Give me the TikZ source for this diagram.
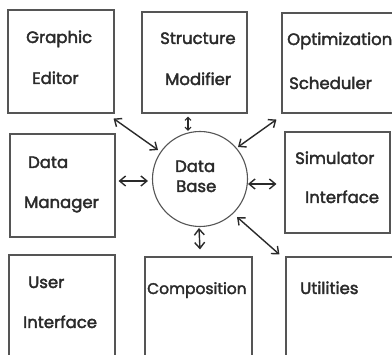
\documentclass[tikz,border=0pt]{standalone}
\usepackage{fontspec}
\setmainfont{Poppins}
\newfontfamily\lblfont{Poppins}[FakeBold=2.2]
\usetikzlibrary{arrows.meta}
\definecolor{ink}{HTML}{2A2A2A}
\definecolor{rule}{HTML}{555555}
\begin{document}
\begin{tikzpicture}[x=1pt,y=-1pt,
  box/.style args={#1x#2}{draw=rule, line width=1.1pt, minimum width=#1pt,
    minimum height=#2pt, inner sep=0pt},
  lbl/.style={anchor=base west, inner sep=0pt, text=ink,
    font=\lblfont\fontsize{16.5}{19}\selectfont},
  db/.style={draw=rule, line width=1.1pt, circle, minimum size=95pt, inner sep=0pt},
  link/.style={draw=ink, line width=1.4pt,
    {Straight Barb[length=6pt,width=10pt]}-{Straight Barb[length=6pt,width=10pt]}},
  shortlink/.style={draw=ink, line width=1.2pt,
    {Straight Barb[length=3pt,width=6pt]}-{Straight Barb[length=3pt,width=6pt]}}]
\fill[white] (0,0) rectangle (392,355);
\useasboundingbox (0,0) rectangle (392,355);

% module boxes
\node[box=106x103] (ge) at (61,61.5) {};
\node[box=105x101] (sm) at (194.5,62.5) {};
\node[box=111x100] (os) at (337.5,63) {};
\node[box=105x103] (dm) at (62.5,185.5) {};
\node[box=105x101] (si) at (337.5,182.5) {};
\node[box=106x105] (ui) at (62,307.5) {};
\node[box=107x103] (co) at (198.5,308.5) {};
\node[box=109x103] (ut) at (340.5,308.5) {};

% central data base
\node[db] (base) at (200,179) {};

% labels
\node[lbl] (ge1) at (26,43) {Graphic};
\node[lbl] (ge2) at (32,84) {Editor};
\node[lbl] (sm1) at (160,44) {Structure};
\node[lbl] (sm2) at (165,85) {Modifier};
\node[lbl] (os1) at (287,45) {Optimization};
\node[lbl] (os2) at (289,89) {Scheduler};
\node[lbl] (dm1) at (28,168) {Data};
\node[lbl] (dm2) at (24,208) {Manager};
\node[lbl] (si1) at (295,164) {Simulator};
\node[lbl] (si2) at (305,203) {Interface};
\node[lbl] (ui1) at (28,288) {User};
\node[lbl] (ui2) at (23,328) {Interface};
\node[lbl, font=\lblfont\fontsize{15.5}{19}\selectfont] (co1) at (147,294) {Composition};
\node[lbl] (ut1) at (300,294) {Utilities};
\node[lbl] (db1) at (175,172) {Data};
\node[lbl] (db2) at (176,192) {Base};

% two-way links to the data base
\draw[link] ([shift={(-1,5)}]ge.south east) -- ([shift={(-42,-29)}]base.center);
\draw[shortlink] ([shift={(-6.5,3)}]sm.south) -- ([shift={(-12,-48)}]base.center);
\draw[link] ([shift={(38,-32)}]base.center) -- ([shift={(-5,6)}]os.south west);
\draw[link] ([shift={(3,-4.5)}]dm.east) -- ([shift={(-52,2)}]base.center);
\draw[link] ([shift={(48,5)}]base.center) -- ([shift={(-8,1.5)}]si.west);
\draw[link] ([shift={(-1,49)}]base.center) -- ([shift={(1.5,-7)}]co.north);
\draw[link] ([shift={(37,38)}]base.center) -- ([shift={(-6,-2)}]ut.north west);
\end{tikzpicture}
\end{document}
